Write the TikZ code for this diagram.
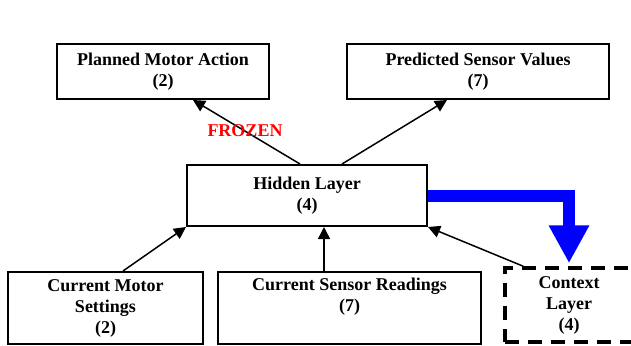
\documentclass[tikz,border=0pt]{standalone}
\usepackage{fontspec}
\setmainfont{Liberation Serif}
\usetikzlibrary{arrows.meta,calc}

\tikzset{
  layer/.style={draw, line width=2pt, inner sep=0pt, align=center,
    font=\fontsize{18}{21}\selectfont\bfseries},
  conn/.style={line width=1.5pt, -{Triangle[length=12pt,width=12pt]}},
}

\begin{document}
\begin{tikzpicture}[x=1pt, y=-1pt]
  \useasboundingbox (0,0) rectangle (631,345);
  % output layers
  \node [layer, minimum width=212pt, minimum height=55pt] (pma) at (163,71.5)
    {Planned Motor Action\\(2)};
  \node [layer, minimum width=262pt, minimum height=55pt] (psv) at (478,71.5)
    {Predicted Sensor Values\\(7)};
  % hidden layer
  \node [layer, minimum width=240pt, minimum height=61pt] (hid) at (307,195.5)
    {Hidden Layer\\(4)};
  % input layers
  \node [layer, minimum width=195pt, minimum height=72pt] (cms) at (105.5,308)
    {Current Motor\\Settings\\(2)};
  \node [layer, minimum width=263pt, minimum height=72pt] (csr) at (349.5,308)
    {Current Sensor Readings\\(7)\\\strut};
  \node [layer, line width=3.5pt, dash pattern=on 14pt off 9pt,
    minimum width=128pt, minimum height=74pt] (ctx) at (569,305)
    {Context\\Layer\\(4)};

  \draw [conn] ($(hid.north)+(-7,0)$) -- ($(pma.south)+(30,0)$);
  \draw [conn] ($(hid.north)+(35,0)$) -- ($(psv.south)+(-31,0)$);
  \node [text=red, font=\fontsize{18}{21}\selectfont\bfseries] (frz) at (245,131) {FROZEN};

  \draw [conn] ($(cms.north)+(17.5,0)$) -- (hid.south west);
  \draw [conn] ($(csr.north)+(-25.5,0)$) -- ($(hid.south)+(17,0)$);
  \draw [conn] ($(ctx.north west)+(20,0)$) -- (hid.south east);

  % copy to context
  \draw [blue, line width=12pt, -{Triangle[length=38pt,width=38pt]}]
    (hid.east) -| ($(ctx.north)+(0,-3)$);
\end{tikzpicture}
\end{document}
